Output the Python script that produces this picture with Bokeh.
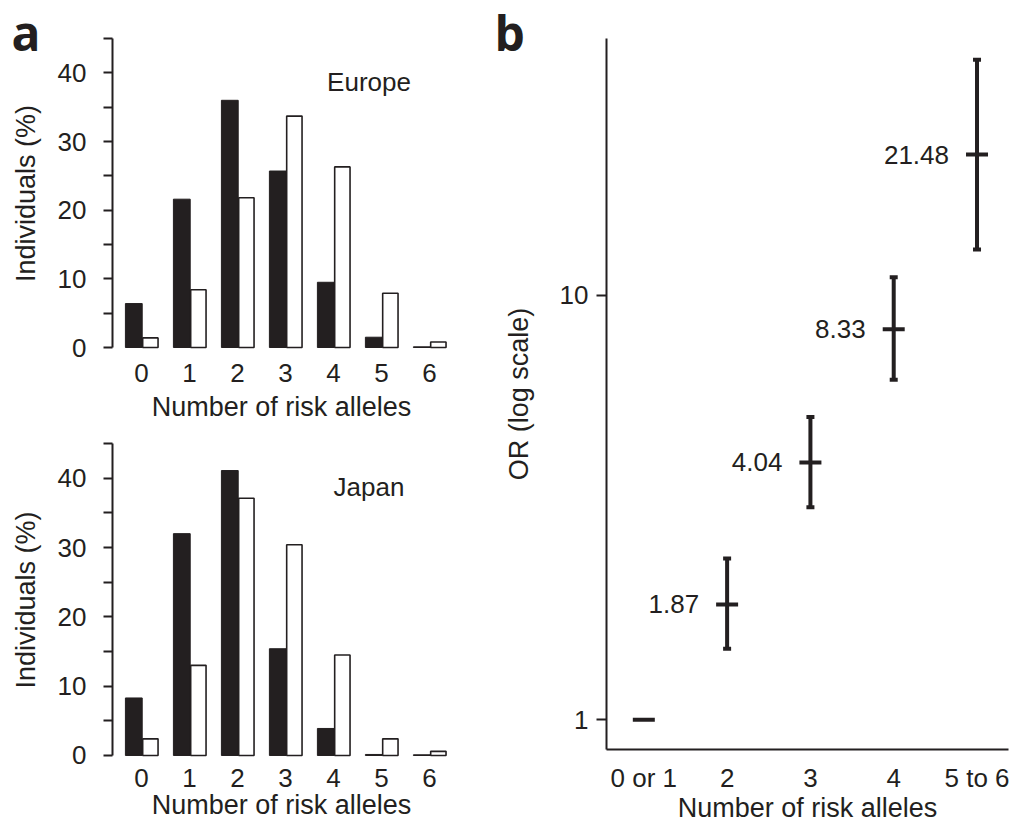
from bokeh.plotting import figure
from bokeh.layouts import row, column
from bokeh.models import (Range1d, FixedTicker, Label, Whisker, TeeHead,
                          ColumnDataSource, NumeralTickFormatter, Title)
from bokeh.embed import file_html
from bokeh.resources import INLINE
from bokeh.core.properties import value

# ---------------- data ----------------
alleles = [0, 1, 2, 3, 4, 5, 6]
europe_black = [6.4, 21.6, 36.0, 25.7, 9.5, 1.5, 0.1]
europe_white = [1.4, 8.4, 21.8, 33.7, 26.3, 7.9, 0.8]
japan_black = [8.3, 32.0, 41.1, 15.4, 3.9, 0.15, 0.1]
japan_white = [2.4, 13.0, 37.1, 30.4, 14.5, 2.4, 0.6]
y_ticks_a = [0, 10, 20, 30, 40]
y_minor_a = [5, 15, 25, 35, 45]

or_categories = ["0 or 1", "2", "3", "4", "5 to 6"]
or_values = [1.0, 1.87, 4.04, 8.33, 21.48]
or_lower = [None, 1.47, 3.17, 6.33, 12.84]
or_upper = [None, 2.40, 5.17, 11.04, 35.94]
or_text = ["", "1.87", "4.04", "8.33", "21.48"]
or_ticks = [1, 10]

INK = "#231f20"
FONT = "Liberation Sans"
FS_TICK = "26px"
FS_LABEL = "27px"


def style_axes(p):
    for ax in p.axis:
        ax.major_label_text_font = FONT
        ax.major_label_text_font_size = FS_TICK
        ax.major_label_text_color = INK
        ax.axis_label_text_font = FONT
        ax.axis_label_text_font_size = FS_LABEL
        ax.axis_label_text_font_style = "normal"
        ax.axis_label_text_color = INK
        ax.axis_line_color = INK
        ax.axis_line_width = 2
        ax.major_tick_line_color = INK
        ax.major_tick_line_width = 2
        ax.minor_tick_line_color = INK
        ax.minor_tick_line_width = 2
    p.grid.visible = False
    p.outline_line_color = None
    p.background_fill_color = "white"
    p.border_fill_color = "white"


def panel_title(letter, offset, standoff):
    return Title(text=letter, align="left", offset=offset, standoff=standoff,
                 text_font="Open Sans", text_font_style="bold",
                 text_font_size="48px", text_color=INK)


def make_hist(black, white, region, height, b_top, b_bottom, y0, y1,
              tick_standoff, label_standoff, letter=None):
    p = figure(width=488, height=height,
               x_range=Range1d(-0.604, 6.438), y_range=Range1d(y0, y1),
               output_backend="svg", toolbar_location=None,
               min_border_left=112, min_border_right=38,
               min_border_top=b_top, min_border_bottom=b_bottom,
               x_axis_label="Number of risk alleles",
               y_axis_label="Individuals (%)")
    if letter:
        p.title = panel_title(letter, -101, -58)
    p.vbar(x=[a - 0.16 for a in alleles], top=black, bottom=0, width=0.35,
           fill_color=INK, line_color=INK, line_width=1)
    p.vbar(x=[a + 0.185 for a in alleles], top=white, bottom=0, width=0.32,
           fill_color="white", line_color=INK, line_width=1.6)
    style_axes(p)
    xa = p.xaxis[0]
    xa.ticker = FixedTicker(ticks=alleles, minor_ticks=[])
    xa.axis_line_color = None
    xa.major_tick_line_color = None
    xa.major_tick_out = 0
    xa.major_tick_in = 0
    xa.minor_tick_out = 0
    xa.major_label_standoff = tick_standoff
    xa.axis_label_standoff = label_standoff
    ya = p.yaxis[0]
    ya.ticker = FixedTicker(ticks=y_ticks_a, minor_ticks=y_minor_a)
    ya.bounds = (0, 45)
    ya.major_tick_out = 9
    ya.major_tick_in = 0
    ya.minor_tick_out = 9
    ya.minor_tick_in = 0
    ya.major_label_standoff = 17
    ya.axis_label_standoff = 14
    p.add_layout(Label(x=4.74, y=38.7, text=region, text_font=FONT,
                       text_font_size=FS_TICK, text_color=INK,
                       text_align="center", text_baseline="alphabetic"))
    return p


p_eu = make_hist(europe_black, europe_white, "Europe", 428, 35, 77,
                 -0.582, 45.437, 12, 7, letter="a")
p_jp = make_hist(japan_black, japan_white, "Japan", 397, 12, 66,
                 -0.577, 45.433, 9, 0)

# ---------------- panel b ----------------
pos = list(range(len(or_categories)))
p_b = figure(width=526, height=825,
             x_range=Range1d(-0.448, 4.378), y_range=Range1d(0.851, 40.34),
             y_axis_type="log", output_backend="svg", toolbar_location=None,
             min_border_left=118, min_border_right=6,
             min_border_top=38, min_border_bottom=76,
             x_axis_label="Number of risk alleles",
             y_axis_label="OR (log scale)")
p_b.title = panel_title("b", -112, -52)

ci_idx = [i for i in pos if or_lower[i] is not None]
ci_src = ColumnDataSource(data=dict(
    x=[pos[i] for i in ci_idx],
    lo=[or_lower[i] for i in ci_idx],
    hi=[or_upper[i] for i in ci_idx]))
whisk = Whisker(base="x", lower="lo", upper="hi", source=ci_src,
                line_color=INK, line_width=4,
                upper_head=TeeHead(size=8, line_color=INK, line_width=4),
                lower_head=TeeHead(size=8, line_color=INK, line_width=4))
p_b.add_layout(whisk)
p_b.scatter(x=pos, y=or_values, marker="dash", size=22,
            line_color=INK, line_width=4)
p_b.text(x=pos, y=or_values, text=or_text, x_offset=-28,
         text_align="right", text_baseline="middle",
         text_font=value(FONT), text_font_size=FS_TICK, text_color=INK)

style_axes(p_b)
xb = p_b.xaxis[0]
xb.ticker = FixedTicker(ticks=pos, minor_ticks=[])
xb.major_label_overrides = {i: c for i, c in zip(pos, or_categories)}
xb.major_tick_line_color = None
xb.major_tick_out = 0
xb.major_tick_in = 0
xb.minor_tick_out = 0
xb.major_label_standoff = 13
xb.axis_label_standoff = -3
yb = p_b.yaxis[0]
yb.ticker = FixedTicker(ticks=or_ticks, minor_ticks=[])
yb.formatter = NumeralTickFormatter(format="0")
yb.major_tick_out = 10
yb.major_tick_in = 0
yb.minor_tick_out = 0
yb.minor_tick_in = 0
yb.major_label_standoff = 8
yb.axis_label_standoff = 23

layout = row(column(p_eu, p_jp), p_b)
open("out.html", "w").write(file_html(layout, INLINE))
